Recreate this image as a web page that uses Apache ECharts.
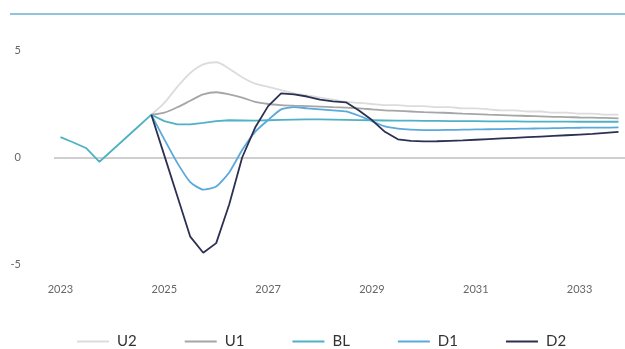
<!DOCTYPE html>
<html>
<head>
<meta charset="utf-8">
<script src="https://cdn.jsdelivr.net/npm/echarts@6/dist/echarts.min.js"></script>
<style>
  html, body { margin: 0; padding: 0; background: #fff; }
  #chart { width: 625px; height: 349px; }
</style>
</head>
<body>
<div id="chart"></div>
<script>
// quarters 2023Q1 .. 2033Q4
const quarters = [
  '2023Q1','2023Q2','2023Q3','2023Q4','2024Q1','2024Q2','2024Q3','2024Q4',
  '2025Q1','2025Q2','2025Q3','2025Q4','2026Q1','2026Q2','2026Q3','2026Q4',
  '2027Q1','2027Q2','2027Q3','2027Q4','2028Q1','2028Q2','2028Q3','2028Q4',
  '2029Q1','2029Q2','2029Q3','2029Q4','2030Q1','2030Q2','2030Q3','2030Q4',
  '2031Q1','2031Q2','2031Q3','2031Q4','2032Q1','2032Q2','2032Q3','2032Q4',
  '2033Q1','2033Q2','2033Q3','2033Q4'
]

// shared history up to 2024Q4
const history = [0.95, 0.7, 0.43, -0.2, 0.35, 0.9, 1.45, 2.0]

// scenario paths 2025Q1 .. 2033Q4
const u2 = [2.55, 3.3, 3.95, 4.35, 4.45, 4.15, 3.75, 3.45, 3.3, 3.15, 3.0, 2.9,
  2.8, 2.7, 2.6, 2.55, 2.5, 2.45, 2.45, 2.4, 2.4, 2.35, 2.35, 2.3,
  2.3, 2.25, 2.2, 2.2, 2.15, 2.15, 2.1, 2.1, 2.05, 2.05, 2.0, 2.0]
const u1 = [2.1, 2.35, 2.65, 2.95, 3.05, 2.95, 2.8, 2.6, 2.5, 2.45, 2.42, 2.4,
  2.38, 2.35, 2.33, 2.3, 2.25, 2.2, 2.18, 2.15, 2.12, 2.1, 2.08, 2.05,
  2.03, 2.0, 1.98, 1.96, 1.94, 1.92, 1.9, 1.89, 1.87, 1.86, 1.85, 1.83]
const bl = [1.7, 1.55, 1.55, 1.62, 1.7, 1.74, 1.73, 1.72, 1.74, 1.76, 1.77, 1.78,
  1.78, 1.77, 1.76, 1.75, 1.74, 1.73, 1.72, 1.72, 1.71, 1.71, 1.7, 1.7,
  1.7, 1.69, 1.69, 1.69, 1.68, 1.68, 1.68, 1.68, 1.67, 1.67, 1.67, 1.67]
const d1 = [0.85, -0.25, -1.15, -1.5, -1.35, -0.7, 0.35, 1.2, 1.75, 2.25, 2.35, 2.3,
  2.25, 2.2, 2.15, 1.95, 1.7, 1.45, 1.35, 1.3, 1.28, 1.28, 1.29, 1.3,
  1.31, 1.32, 1.33, 1.34, 1.35, 1.36, 1.37, 1.38, 1.39, 1.4, 1.4, 1.41]
const d2 = [0.1, -1.8, -3.7, -4.45, -4.0, -2.2, 0.0, 1.4, 2.4, 3.0, 2.95, 2.85,
  2.7, 2.62, 2.58, 2.2, 1.75, 1.2, 0.85, 0.78, 0.75, 0.76, 0.78, 0.8,
  0.83, 0.86, 0.89, 0.92, 0.95, 0.98, 1.01, 1.04, 1.07, 1.1, 1.15, 1.2]

const names = ['U2', 'U1', 'BL', 'D1', 'D2']
const colors = ['#dcdcdc', '#a6a6a6', '#4fb1c4', '#5aa9dc', '#2c3152']
const smoothing = [0.3, 0.3, 0, 0.2, 0]

// scenarios branch from the last history point
const pad = history.slice(0, -1).map(() => null)
const branch = (s) => pad.concat([history[history.length - 1]], s)

const seriesData = [branch(u2), branch(u1), history.concat(bl), branch(d1), branch(d2)]

const chart = echarts.init(document.getElementById('chart'))

chart.setOption({
  animation: false,
  backgroundColor: '#fff',
  textStyle: { fontFamily: 'Lato, "Open Sans", sans-serif' },
  graphic: [{
    type: 'line',
    shape: { x1: 10, y1: 14, x2: 625, y2: 14 },
    style: { stroke: '#8ec5da', lineWidth: 2 }
  }],
  grid: { left: 54, right: -5.4, top: 50.5, bottom: 84.5 },
  legend: {
    data: names,
    top: 329,
    left: 72,
    icon: 'rect',
    itemWidth: 32,
    itemHeight: 2,
    itemGap: 48,
    textStyle: { color: '#333', fontSize: 15, padding: [0, 0, 0, 3] }
  },
  xAxis: {
    type: 'category',
    data: quarters,
    boundaryGap: true,
    axisLine: { show: false },
    axisTick: { show: false },
    axisLabel: {
      interval: 7,
      margin: 19,
      color: '#666',
      fontSize: 11,
      formatter: (v) => v.slice(0, 4)
    }
  },
  yAxis: {
    type: 'value',
    min: -5,
    max: 5,
    interval: 5,
    splitLine: { show: false },
    axisLine: { show: false },
    axisTick: { show: false },
    axisLabel: { color: '#666', fontSize: 11, margin: 33 }
  },
  series: names.map((n, i) => ({
    name: n,
    type: 'line',
    data: seriesData[i],
    symbol: 'none',
    smooth: smoothing[i],
    lineStyle: { color: colors[i], width: 1.8 },
    itemStyle: { color: colors[i] },
    z: 3 + i,
    markLine: i === 0 ? {
      silent: true,
      symbol: 'none',
      label: { show: false },
      lineStyle: { color: '#cfcfcf', width: 2, type: 'solid' },
      data: [{ yAxis: 0 }]
    } : undefined
  }))
})
</script>
</body>
</html>
